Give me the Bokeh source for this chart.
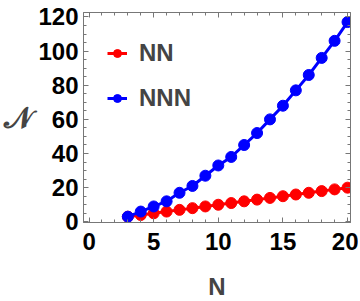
from bokeh.plotting import figure
from bokeh.models import (LinearAxis, Range1d, SingleIntervalTicker, Legend, LegendItem,
                          CustomJSTickFormatter)
from bokeh.embed import file_html
from bokeh.resources import INLINE

N = list(range(3, 21))
nn = [3, 4, 5, 6, 7, 8, 9, 10, 11, 12, 13, 14, 15, 16, 17, 18, 19, 20]
nnn = [3, 6, 9, 12, 17, 21, 27, 33, 38, 45, 52, 60, 68, 77, 86, 96, 106, 117]
x_ticks_step = 5
y_ticks_step = 20

RED = "#ff0000"
BLUE = "#0000ff"
GRAY = "#777777"
FONT = "Liberation Sans"

p = figure(frame_width=267, frame_height=210, output_backend="svg", toolbar_location=None,
           x_range=Range1d(-0.43, 20.23), y_range=Range1d(-0.4, 122.6),
           min_border_left=83, min_border_right=8, min_border_top=12, min_border_bottom=78,
           x_axis_location=None, y_axis_location=None)
p.grid.visible = False
p.outline_line_color = GRAY
p.outline_line_width = 1
p.background_fill_color = "white"
p.border_fill_color = "white"

def style(ax, labels=True):
    ax.axis_line_color = GRAY
    ax.major_tick_line_color = GRAY
    ax.minor_tick_line_color = GRAY
    ax.major_tick_in = 5
    ax.major_tick_out = 0
    ax.minor_tick_in = 3
    ax.minor_tick_out = 0
    if labels:
        ax.major_label_text_font = FONT
        ax.major_label_text_font_style = "bold"
        ax.major_label_text_font_size = "24px"
        ax.major_label_text_color = "black"
    else:
        ax.formatter = CustomJSTickFormatter(code="return ''")
        ax.major_label_standoff = 0

xb = LinearAxis(ticker=SingleIntervalTicker(interval=x_ticks_step, num_minor_ticks=5))
style(xb)
xb.major_label_standoff = 10
xb.axis_label = "N"
xb.axis_label_text_font = FONT
xb.axis_label_text_font_style = "bold"
xb.axis_label_text_font_size = "24px"
xb.axis_label_standoff = 20
p.add_layout(xb, "below")

yl = LinearAxis(ticker=SingleIntervalTicker(interval=y_ticks_step, num_minor_ticks=4))
style(yl)
yl.major_label_standoff = 5
yl.axis_label = "\U0001D4A9"
yl.axis_label_orientation = "horizontal"
yl.axis_label_text_font = "DejaVu Sans"
yl.axis_label_text_font_style = "bold"
yl.axis_label_text_font_size = "30px"
yl.axis_label_standoff = 2
p.add_layout(yl, "left")

xt = LinearAxis(ticker=SingleIntervalTicker(interval=x_ticks_step, num_minor_ticks=5))
style(xt, labels=False)
p.add_layout(xt, "above")
yr = LinearAxis(ticker=SingleIntervalTicker(interval=y_ticks_step, num_minor_ticks=4))
style(yr, labels=False)
p.add_layout(yr, "right")

l1 = p.line(N, nn, line_color=RED, line_width=3)
s1 = p.scatter(N, nn, size=11, fill_color=RED, line_color=RED)
l2 = p.line(N, nnn, line_color=BLUE, line_width=3)
s2 = p.scatter(N, nnn, size=11, fill_color=BLUE, line_color=BLUE)

legend = Legend(items=[LegendItem(label="NN", renderers=[l1, s1]),
                       LegendItem(label="NNN", renderers=[l2, s2])],
                location=(24, 110), orientation="vertical")
legend.label_text_font = FONT
legend.label_text_font_style = "bold"
legend.label_text_font_size = "24px"
legend.label_standoff = 12
legend.glyph_width = 20
legend.spacing = 17
legend.padding = 0
legend.margin = 0
legend.border_line_alpha = 0
legend.background_fill_alpha = 0
p.add_layout(legend, "center")

open("out.html", "w").write(file_html(p, INLINE))
